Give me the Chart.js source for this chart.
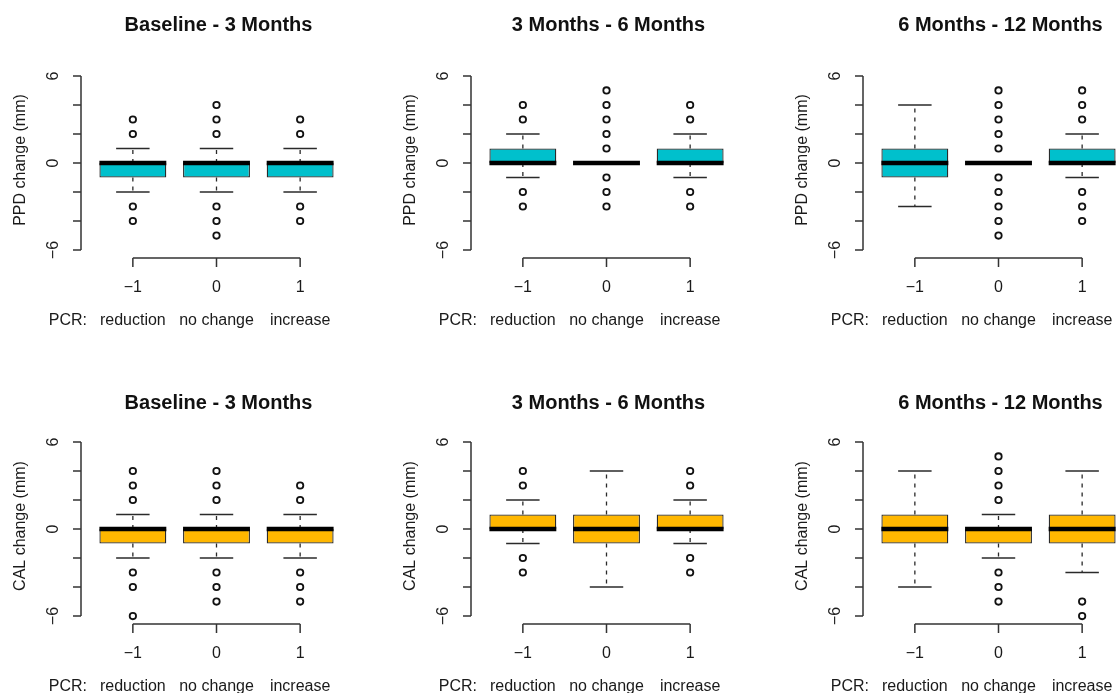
<!DOCTYPE html>
<html><head><meta charset="utf-8">
<script src="https://cdn.jsdelivr.net/npm/chart.js@4.4.1/dist/chart.umd.min.js"></script>
<style>
html,body{margin:0;padding:0;background:#fff;overflow:hidden;}
#wrap{position:relative;width:1118px;height:693px;overflow:hidden;background:#fff;}
#wrap canvas{position:absolute;}
</style></head><body><div id="wrap"></div>
<script>
// ---- data ----
const groupPositions = [1, 2, 3];
const groupTickLabels = ["\u22121", "0", "1"];
const groupNames = ["reduction", "no change", "increase"];
const groupPrefix = "PCR:";
const yTickValues = [-6, -4, -2, 0, 2, 4, 6];
const yTickLabels = ["\u22126", "", "", "0", "", "", "6"];
const panelTitles = ["Baseline - 3 Months", "3 Months - 6 Months", "6 Months - 12 Months"];
const rowYLabels = ["PPD change (mm)", "CAL change (mm)"];

// five-number summaries per group: [lower whisker, Q1, median, Q3, upper whisker]
const ppdBaseline3 = [[-2, -1, 0, 0, 1], [-2, -1, 0, 0, 1], [-2, -1, 0, 0, 1]];
const ppdBaseline3Out = [[3, 2, -3, -4], [4, 3, 2, -3, -4, -5], [3, 2, -3, -4]];
const ppd3to6 = [[-1, 0, 0, 1, 2], [0, 0, 0, 0, 0], [-1, 0, 0, 1, 2]];
const ppd3to6Out = [[4, 3, -2, -3], [5, 4, 3, 2, 1, -1, -2, -3], [4, 3, -2, -3]];
const ppd6to12 = [[-3, -1, 0, 1, 4], [0, 0, 0, 0, 0], [-1, 0, 0, 1, 2]];
const ppd6to12Out = [[], [5, 4, 3, 2, 1, -1, -2, -3, -4, -5], [5, 4, 3, -2, -3, -4]];

const calBaseline3 = [[-2, -1, 0, 0, 1], [-2, -1, 0, 0, 1], [-2, -1, 0, 0, 1]];
const calBaseline3Out = [[4, 3, 2, -3, -4, -6], [4, 3, 2, -3, -4, -5], [3, 2, -3, -4, -5]];
const cal3to6 = [[-1, 0, 0, 1, 2], [-4, -1, 0, 1, 4], [-1, 0, 0, 1, 2]];
const cal3to6Out = [[4, 3, -2, -3], [], [4, 3, -2, -3]];
const cal6to12 = [[-4, -1, 0, 1, 4], [-2, -1, 0, 0, 1], [-3, -1, 0, 1, 4]];
const cal6to12Out = [[], [5, 4, 3, 2, -3, -4, -5], [-5, -6]];

const rowColors = ["#00C0CC", "#FFB700"];

// ---- layout ----
const colX = [0, 390, 782];
const rowY = [0, 366];
const titleOffset = [44, 32];
const CW = 373, CH = 340;
const FONT = '"Liberation Sans", Arial, Helvetica, sans-serif';

const panels = [
  {row: 0, col: 0, stats: ppdBaseline3, out: ppdBaseline3Out},
  {row: 0, col: 1, stats: ppd3to6, out: ppd3to6Out},
  {row: 0, col: 2, stats: ppd6to12, out: ppd6to12Out},
  {row: 1, col: 0, stats: calBaseline3, out: calBaseline3Out},
  {row: 1, col: 1, stats: cal3to6, out: cal3to6Out},
  {row: 1, col: 2, stats: cal6to12, out: cal6to12Out}
];

const rBoxPlot = {
  id: 'rBoxPlot',
  afterDatasetsDraw(chart, args, o) {
    const ctx = chart.ctx;
    const xs = chart.scales.x, ys = chart.scales.y;
    const unit = xs.getPixelForValue(2) - xs.getPixelForValue(1);
    ctx.save();
    o.stats.forEach((s, i) => {
      const cx = xs.getPixelForValue(groupPositions[i]);
      const [lo, q1, med, q3, hi] = s;
      ctx.strokeStyle = '#2a2a2a';
      const seg = (a, b) => {
        if (a === b) return;
        ctx.setLineDash([4, 5]);
        ctx.lineWidth = 1.3;
        ctx.beginPath();
        ctx.moveTo(cx, ys.getPixelForValue(a));
        ctx.lineTo(cx, ys.getPixelForValue(b));
        ctx.stroke();
        ctx.setLineDash([]);
        ctx.lineWidth = 1.6;
        ctx.beginPath();
        ctx.moveTo(cx - 0.2 * unit, ys.getPixelForValue(b));
        ctx.lineTo(cx + 0.2 * unit, ys.getPixelForValue(b));
        ctx.stroke();
      };
      seg(q3, hi);
      seg(q1, lo);
      ctx.setLineDash([]);
      ctx.strokeStyle = '#000';
      ctx.lineWidth = 4.5;
      ctx.lineCap = 'butt';
      ctx.beginPath();
      ctx.moveTo(cx - 0.4 * unit, ys.getPixelForValue(med));
      ctx.lineTo(cx + 0.4 * unit, ys.getPixelForValue(med));
      ctx.stroke();
    });
    ctx.restore();
  },
  afterDraw(chart, args, o) {
    const ctx = chart.ctx, ca = chart.chartArea;
    const xs = chart.scales.x, ys = chart.scales.y;
    ctx.save();
    ctx.strokeStyle = '#333';
    ctx.fillStyle = '#1a1a1a';
    ctx.lineWidth = 1.5;
    const yTop = ys.getPixelForValue(yTickValues[yTickValues.length - 1]);
    const yBot = ys.getPixelForValue(yTickValues[0]);
    ctx.beginPath();
    ctx.moveTo(ca.left, yTop); ctx.lineTo(ca.left, yBot);
    yTickValues.forEach(v => {
      const py = ys.getPixelForValue(v);
      ctx.moveTo(ca.left - 8, py); ctx.lineTo(ca.left, py);
    });
    ctx.stroke();
    ctx.font = '16px ' + FONT;
    ctx.textAlign = 'center';
    ctx.textBaseline = 'middle';
    yTickValues.forEach((v, i) => {
      if (!yTickLabels[i]) return;
      ctx.save();
      ctx.translate(ca.left - 27, ys.getPixelForValue(v));
      ctx.rotate(-Math.PI / 2);
      ctx.fillText(yTickLabels[i], 0, 0);
      ctx.restore();
    });
    ctx.save();
    ctx.translate(ca.left - 60, (yTop + yBot) / 2 - 3);
    ctx.rotate(-Math.PI / 2);
    ctx.fillText(o.ylab, 0, 0);
    ctx.restore();
    const ax = ca.bottom + 1;
    const x1 = xs.getPixelForValue(groupPositions[0]);
    const x3 = xs.getPixelForValue(groupPositions[groupPositions.length - 1]);
    ctx.beginPath();
    ctx.moveTo(x1, ax); ctx.lineTo(x3, ax);
    groupPositions.forEach(p => {
      const px = xs.getPixelForValue(p);
      ctx.moveTo(px, ax); ctx.lineTo(px, ax + 9);
    });
    ctx.stroke();
    groupPositions.forEach((p, i) => {
      const px = xs.getPixelForValue(p);
      ctx.fillText(groupTickLabels[i], px, ca.bottom + 31);
      ctx.fillText(groupNames[i], px, ca.bottom + 64);
    });
    ctx.textAlign = 'right';
    ctx.fillText(groupPrefix, ca.left + 6, ca.bottom + 64);
    ctx.font = 'bold 20px ' + FONT;
    ctx.textAlign = 'center';
    ctx.fillStyle = '#111';
    ctx.fillText(o.title, xs.getPixelForValue(groupPositions[1]) + 2, ca.top - o.titleOff);
    ctx.restore();
  }
};

const wrap = document.getElementById('wrap');
panels.forEach(p => {
  const cv = document.createElement('canvas');
  cv.width = CW; cv.height = CH;
  cv.style.left = colX[p.col] + 'px';
  cv.style.top = rowY[p.row] + 'px';
  cv.style.width = CW + 'px'; cv.style.height = CH + 'px';
  wrap.appendChild(cv);
  const boxData = p.stats.map((s, i) => ({x: groupPositions[i], y: [s[1], s[3]]}));
  const outData = [];
  p.out.forEach((arr, i) => arr.forEach(v => outData.push({x: groupPositions[i], y: v})));
  new Chart(cv, {
    type: 'bar',
    data: {
      datasets: [
        {
          type: 'bar', data: boxData,
          backgroundColor: rowColors[p.row], borderColor: '#2a2a2a',
          borderWidth: 1.3, borderSkipped: false,
          barPercentage: 0.8, categoryPercentage: 1.0, order: 2
        },
        {
          type: 'scatter', data: outData, showLine: false,
          pointRadius: 3.2, pointBorderWidth: 1.8,
          pointBackgroundColor: '#ffffff', pointBorderColor: '#111', order: 1
        }
      ]
    },
    options: {
      responsive: false, animation: false, events: [],
      devicePixelRatio: 1,
      layout: {padding: {left: 81, right: 21, top: 69, bottom: 83}},
      scales: {
        x: {type: 'linear', min: 0.38, max: 3.62, offset: false, display: false,
            afterBuildTicks: s => { s.ticks = groupPositions.map(v => ({value: v})); }},
        y: {type: 'linear', min: -6.48, max: 6.48, display: false,
            afterBuildTicks: s => { s.ticks = yTickValues.map(v => ({value: v})); }}
      },
      plugins: {
        legend: {display: false}, tooltip: {enabled: false}, title: {display: false},
        rBoxPlot: {stats: p.stats, ylab: rowYLabels[p.row], title: panelTitles[p.col], titleOff: titleOffset[p.row]}
      }
    },
    plugins: [rBoxPlot]
  });
});
</script></body></html>
